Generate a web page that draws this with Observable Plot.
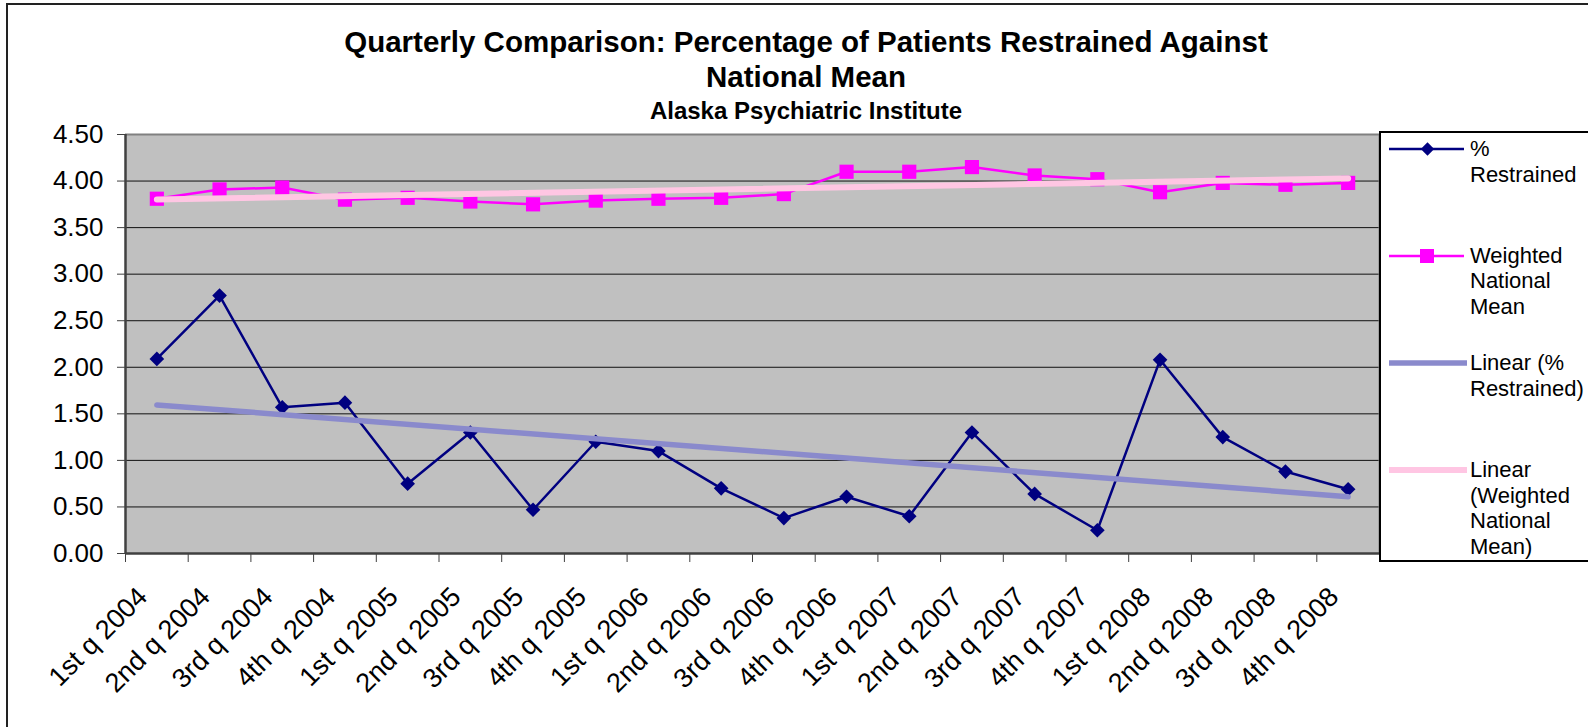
<!DOCTYPE html>
<html>
<head>
<meta charset="utf-8">
<script src="https://cdn.jsdelivr.net/npm/d3@7"></script>
<script src="https://cdn.jsdelivr.net/npm/@observablehq/plot@0.6"></script>
<style>
  html, body { margin: 0; padding: 0; background: #fff; }
  body { font-family: "Liberation Sans", Arial, sans-serif; }
  #wrap { position: relative; width: 1588px; height: 727px; overflow: hidden; }
  #chart { position: absolute; left: 0; top: 0; }
  #border { position: absolute; left: 6px; top: 3px; width: 1620px; height: 760px; border: 2px solid #222; box-sizing: border-box; pointer-events: none; }
  .title { position: absolute; left: 0; width: 1612px; text-align: center; font-weight: bold; color: #000; white-space: nowrap; }
  #t1 { top: 24px; font-size: 29.5px; line-height: 35px; }
  #t2 { top: 97px; font-size: 24px; line-height: 28px; }
  #legend { position: absolute; left: 1379px; top: 131px; width: 260px; height: 431px; border: 2px solid #000; box-sizing: border-box; background: #fff; }
  .item { position: absolute; left: 0; width: 260px; }
  .item svg { position: absolute; left: 8px; top: 0; }
  .item .lab { position: absolute; left: 89px; top: 0; font-size: 22px; line-height: 25.7px; color: #000; white-space: nowrap; }
</style>
</head>
<body>
<div id="wrap">
  <div id="chart"></div>
  <div id="border"></div>
  <div class="title" id="t1">Quarterly Comparison: Percentage of Patients Restrained Against<br>National Mean</div>
  <div class="title" id="t2">Alaska Psychiatric Institute</div>
  <div id="legend"></div>
</div>
<script>
const categories = [
  "1st q 2004", "2nd q 2004", "3rd q 2004", "4th q 2004",
  "1st q 2005", "2nd q 2005", "3rd q 2005", "4th q 2005",
  "1st q 2006", "2nd q 2006", "3rd q 2006", "4th q 2006",
  "1st q 2007", "2nd q 2007", "3rd q 2007", "4th q 2007",
  "1st q 2008", "2nd q 2008", "3rd q 2008", "4th q 2008"
];
const restrained = [2.09, 2.77, 1.57, 1.62, 0.75, 1.30, 0.47, 1.20, 1.10, 0.70, 0.38, 0.61, 0.40, 1.30, 0.64, 0.25, 2.08, 1.25, 0.88, 0.69];
const weighted = [3.81, 3.91, 3.93, 3.80, 3.82, 3.78, 3.75, 3.79, 3.81, 3.82, 3.86, 4.10, 4.10, 4.15, 4.06, 4.02, 3.88, 3.98, 3.96, 3.98];
const yTicks = [0, 0.5, 1, 1.5, 2, 2.5, 3, 3.5, 4, 4.5];
const seriesNames = ["%\nRestrained", "Weighted\nNational\nMean", "Linear (%\nRestrained)", "Linear\n(Weighted\nNational\nMean)"];

const colors = {restrained: "#000080", weighted: "#ff00ff", trendR: "#8a8acc", trendW: "#ffc6e3"};

const rows = categories.map((label, k) => ({idx: k + 1, label, restrained: restrained[k], weighted: weighted[k]}));
const bounds = d3.range(categories.length + 1).map(k => k + 0.5);
const n = categories.length;

const chart = Plot.plot({
  width: 1588,
  height: 727,
  marginLeft: 125,
  marginRight: 209,
  marginTop: 134,
  marginBottom: 174,
  style: {fontFamily: "'Liberation Sans', Arial, sans-serif", background: "transparent", color: "#000"},
  x: {type: "linear", domain: [0.5, n + 0.5]},
  y: {domain: [0, 4.5]},
  marks: [
    Plot.frame({fill: "#c0c0c0", stroke: "none"}),
    Plot.ruleY(yTicks.filter(v => v > 0 && v < 4.5), {stroke: "#111", strokeWidth: 1}),
    Plot.ruleY([4.5], {stroke: "#808080", strokeWidth: 2}),
    Plot.ruleX([n + 0.5], {stroke: "#808080", strokeWidth: 2}),
    Plot.line(rows, {x: "idx", y: "weighted", stroke: colors.weighted, strokeWidth: 2.5}),
    Plot.dot(rows, {x: "idx", y: "weighted", symbol: "square", r: 8, fill: colors.weighted, stroke: "none"}),
    Plot.line(rows, {x: "idx", y: "restrained", stroke: colors.restrained, strokeWidth: 2.5}),
    Plot.dot(rows, {x: "idx", y: "restrained", symbol: "diamond2", r: 6.6, fill: colors.restrained, stroke: "none"}),
    Plot.linearRegressionY(rows, {x: "idx", y: "restrained", stroke: colors.trendR, strokeWidth: 5.5, ci: 0}),
    Plot.linearRegressionY(rows, {x: "idx", y: "weighted", stroke: colors.trendW, strokeWidth: 6, ci: 0}),
    Plot.ruleX([0.5], {stroke: "#404040", strokeWidth: 2.5}),
    Plot.ruleY([0], {stroke: "#404040", strokeWidth: 2.5}),
    Plot.axisY({ticks: yTicks, tickFormat: d3.format(".2f"), tickSize: 8, tickPadding: 14, fontSize: 26, label: null, stroke: "#404040"}),
    Plot.axisX({ticks: bounds, tickFormat: () => "", tickSize: 9, label: null, stroke: "#404040"}),
    Plot.text(rows, {x: "idx", text: "label", frameAnchor: "bottom", rotate: -45, textAnchor: "end", lineAnchor: "bottom", dy: 45, dx: -8, fontSize: 27, fill: "#000"})
  ]
});
document.getElementById("chart").appendChild(chart);

// Legend
const legend = document.getElementById("legend");
const itemTops = [3, 109.5, 217, 324];
const ns = "http://www.w3.org/2000/svg";
seriesNames.forEach((name, k) => {
  const item = document.createElement("div");
  item.className = "item";
  item.style.top = itemTops[k] + "px";
  const svg = document.createElementNS(ns, "svg");
  svg.setAttribute("width", 80);
  svg.setAttribute("height", 26);
  const line = document.createElementNS(ns, "line");
  line.setAttribute("x1", k < 2 ? 0 : -3);
  line.setAttribute("x2", k < 2 ? 75 : 78);
  line.setAttribute("y1", 13);
  line.setAttribute("y2", 13);
  const col = [colors.restrained, colors.weighted, colors.trendR, colors.trendW][k];
  line.setAttribute("stroke", col);
  line.setAttribute("stroke-width", [2.5, 2.5, 5.5, 6][k]);
  svg.appendChild(line);
  if (k === 0) {
    const p = document.createElementNS(ns, "path");
    p.setAttribute("d", "M38.5,6.3L45.2,13L38.5,19.7L31.8,13Z");
    p.setAttribute("fill", col);
    svg.appendChild(p);
  } else if (k === 1) {
    const r = document.createElementNS(ns, "rect");
    r.setAttribute("x", 31); r.setAttribute("y", 6); r.setAttribute("width", 14); r.setAttribute("height", 14);
    r.setAttribute("fill", col);
    svg.appendChild(r);
  }
  item.appendChild(svg);
  const lab = document.createElement("div");
  lab.className = "lab";
  lab.innerHTML = name.split("\n").join("<br>");
  item.appendChild(lab);
  legend.appendChild(item);
});
</script>
</body>
</html>
